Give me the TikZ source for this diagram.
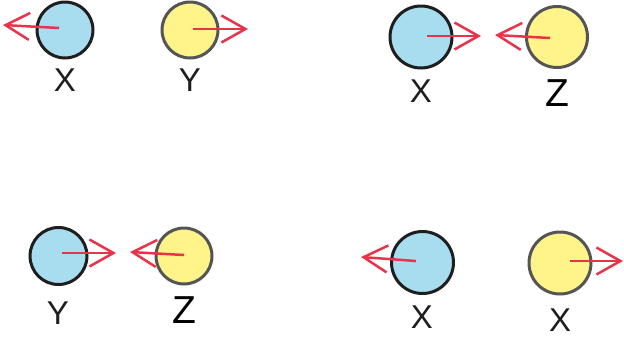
\documentclass[tikz,border=0pt]{standalone}
\usepackage{fontspec}
\setmainfont{Liberation Sans}
\usetikzlibrary{arrows.meta}
\definecolor{bfill}{HTML}{A8DDF0}
\definecolor{yfill}{HTML}{FFF48A}
\definecolor{redarr}{HTML}{E8334A}
\definecolor{gline}{HTML}{555555}
\definecolor{dline}{HTML}{1E1E1E}
\tikzset{
  bball/.style={circle, draw=dline, line width=3pt, fill=bfill, inner sep=0pt},
  yball/.style={circle, draw=gline, line width=3pt, fill=yfill, inner sep=0pt},
  vel/.style={draw=redarr, line width=2.5pt, -{Straight Barb[length=24pt,width=27pt,line width=2.5pt]}},
  lab/.style={font=\fontsize{33}{33}\selectfont, text=dline, inner sep=0pt},
  labz/.style={font=\fontsize{39}{39}\selectfont, text=black, inner sep=0pt},
}
\begin{document}
\begin{tikzpicture}[x=1pt,y=-1pt]
\useasboundingbox (0,0) rectangle (624,338);
% panel 1
\node[bball, minimum size=56pt] (a1) at (65,30) {};
\node[yball, minimum size=56pt] (a2) at (190,30) {};
\coordinate (a1s) at (59,28); \coordinate (a1e) at (3,25);
\coordinate (a2s) at (193,29); \coordinate (a2e) at (248,29);
\draw[vel] (a1s) -- (a1e);
\draw[vel] (a2s) -- (a2e);
\node[lab] (la1) at (65,80) {X};
\node[lab] (la2) at (190,80) {Y};
% panel 2
\node[bball, minimum size=62pt] (b1) at (421,37) {};
\node[yball, minimum size=61pt] (b2) at (557,37) {};
\coordinate (b1s) at (427,36); \coordinate (b1e) at (481,36);
\coordinate (b2s) at (550,38); \coordinate (b2e) at (495,35);
\draw[vel] (b1s) -- (b1e);
\draw[vel] (b2s) -- (b2e);
\node[lab] (lb1) at (421,91) {X};
\node[labz] (lb2) at (557,93) {Z};
% panel 3
\node[bball, minimum size=57pt] (c1) at (58.5,256) {};
\node[yball, minimum size=56pt] (c2) at (184,256) {};
\coordinate (c1s) at (62,253); \coordinate (c1e) at (116,253);
\coordinate (c2s) at (184,255); \coordinate (c2e) at (130,252);
\draw[vel] (c1s) -- (c1e);
\draw[vel] (c2s) -- (c2e);
\node[lab] (lc1) at (58,313) {Y};
\node[labz] (lc2) at (184,310) {Z};
% panel 4
\node[bball, minimum size=62pt] (d1) at (422.5,262.5) {};
\node[yball, minimum size=62pt] (d2) at (560,263) {};
\coordinate (d1s) at (416,261); \coordinate (d1e) at (361,257);
\coordinate (d2s) at (570,261); \coordinate (d2e) at (623,261);
\draw[vel] (d1s) -- (d1e);
\draw[vel] (d2s) -- (d2e);
\node[lab] (ld1) at (422,317) {X};
\node[lab] (ld2) at (560,320) {X};
\end{tikzpicture}
\end{document}
